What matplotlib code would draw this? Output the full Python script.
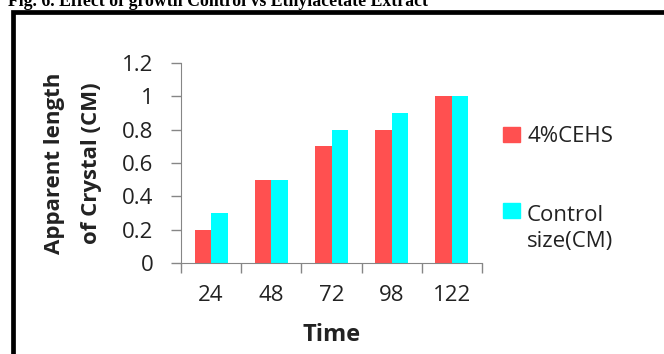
import numpy as np
import matplotlib.pyplot as plt
from matplotlib.patches import Rectangle

# data
times = ['24', '48', '72', '98', '122']
cehs = [0.2, 0.5, 0.7, 0.8, 1.0]
control = [0.3, 0.5, 0.8, 0.9, 1.0]
serie = ['4%CEHS', 'Control\nsize(CM)']

red = '#FF5050'
cyan = '#00FFFF'
grigio = '#868686'
testo = '#222222'

plt.rcParams['font.family'] = ['Open Sans', 'DejaVu Sans']

W, H = 664, 354
fig = plt.figure(figsize=(W/100, H/100), dpi=100)

# titolo tagliato in alto
fig.text(8/W, 1 - 6.5/H, 'Fig. 6. Effect of growth Control vs Ethylacetate Extract',
         family='Liberation Serif', fontweight='bold', fontsize=12.8, va='baseline', ha='left')

# cornice nera
fig.patches.append(Rectangle((12.5/W, -0.1), 1.2, 1.1 - 12/H, transform=fig.transFigure,
                             fill=False, edgecolor='black', linewidth=3.4))

ax = fig.add_axes([181/W, 1 - 263/H, 301/W, 200/H])
x = np.arange(len(times))
w = 0.275
ax.bar(x - w/2, cehs, w, color=red)
ax.bar(x + w/2, control, w, color=cyan)

ax.set_xlim(-0.5, len(times) - 0.5)
ax.set_ylim(0, 1.2)
ax.set_yticks(np.arange(0, 1.21, 0.2))
ax.set_yticklabels(['0', '0.2', '0.4', '0.6', '0.8', '1', '1.2'])
ax.set_xticks(x)
ax.set_xticklabels(times)
ax.set_xticks(np.arange(-0.5, len(times)), minor=True)
ax.tick_params(axis='x', which='major', length=0, pad=16, labelsize=16, colors=testo)
ax.tick_params(axis='x', which='minor', length=7, color=grigio, width=1)
ax.tick_params(axis='y', length=7, color=grigio, width=1, pad=13, labelsize=16, labelcolor=testo)
for s in ['top', 'right']:
    ax.spines[s].set_visible(False)
for s in ['left', 'bottom']:
    ax.spines[s].set_color(grigio)
ax.set_xlabel('Time', fontweight='bold', fontsize=17, labelpad=12, color=testo)
ax.set_ylabel('Apparent length\nof Crystal (CM)', fontweight='bold', fontsize=16,
              labelpad=14, linespacing=2.05, color=testo)

# legenda disegnata a mano: quadratino allineato alla prima riga
fs = 16
passo = fs * 100 / 72 * 1.3
for lab, col, ytop in zip(serie, [red, cyan], [127, 203]):
    fig.patches.append(Rectangle((503/W, 1 - (ytop + 15)/H), 17/W, 15/H,
                                 transform=fig.transFigure, color=col))
    ybase = ytop + 15 + lab.count('\n') * passo
    fig.text(527/W, 1 - ybase/H, lab, fontsize=fs, va='baseline', ha='left',
             color=testo, linespacing=1.3)

fig.savefig('out.png', dpi=100)
